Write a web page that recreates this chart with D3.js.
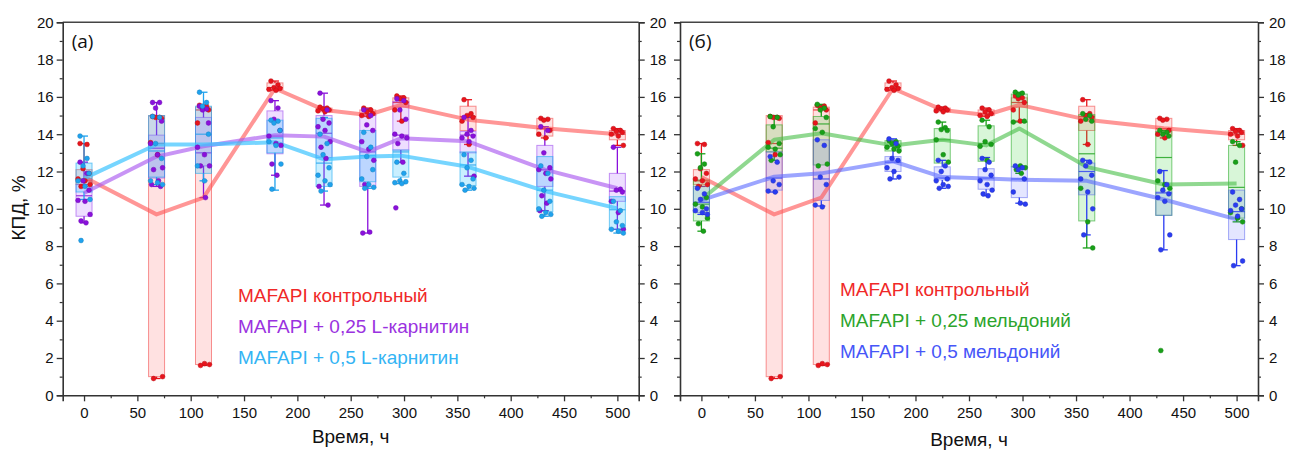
<!DOCTYPE html>
<html>
<head>
<meta charset="utf-8">
<script src="https://cdn.jsdelivr.net/npm/d3@7/dist/d3.min.js"></script>
<style>
  body { margin: 0; background: #fff; }
  svg { display: block; font-family: "Liberation Sans", Arial, sans-serif; }
</style>
</head>
<body>
<svg id="chart" width="1291" height="452"></svg>
<script>
// measurement times, h
const times = [0, 68, 112, 179, 225, 266, 297, 360, 432, 500];
const yTicks = [0, 2, 4, 6, 8, 10, 12, 14, 16, 18, 20];
const xTicks = [0, 50, 100, 150, 200, 250, 300, 350, 400, 450, 500];

// box rows per time: [whisker lo, q1, median, q3, whisker hi, mean]
const ctrlBox = [
  [11.2, 11.3, 11.5, 12.1, 13.5, 11.7],
  [0.9, 1.0, 13.5, 15.0, 15.0, 9.7],
  [1.6, 1.65, 15.3, 15.45, 15.55, 10.6],
  [16.35, 16.4, 16.5, 16.75, 16.85, 16.45],
  [15.2, 15.2, 15.3, 15.4, 15.45, 15.3],
  [14.95, 15.0, 15.1, 15.3, 15.4, 15.03],
  [14.7, 15.45, 15.7, 15.95, 16.05, 15.57],
  [13.45, 14.2, 14.95, 15.5, 15.85, 14.78],
  [13.8, 13.9, 14.3, 14.85, 14.85, 14.32],
  [13.4, 13.7, 14.0, 14.2, 14.3, 14.0]
];
const ctrlPts = [
  [13.5, 13.45, 12.15, 11.9, 11.6, 11.5, 11.3, 11.2],
  [14.95, 14.9, 14.9, 14.85, 13.55, 12.9, 1.0, 0.9],
  [15.55, 15.5, 15.4, 15.3, 14.6, 1.7, 1.65, 1.6],
  [16.85, 16.65, 16.5, 16.45, 16.4, 16.35],
  [15.45, 15.4, 15.35, 15.3, 15.25, 15.2],
  [15.4, 15.3, 15.2, 15.1, 15.0, 14.95],
  [16.05, 15.95, 15.9, 15.7, 15.3, 14.7],
  [15.85, 15.1, 15.0, 14.9, 14.7, 13.45],
  [14.85, 14.8, 14.75, 14.2, 14.0, 13.8],
  [14.3, 14.2, 14.15, 14.1, 14.0, 13.9, 13.4]
];

const carn25Box = [
  [9.25, 9.6, 10.7, 11.3, 12.5, 10.85],
  [11.2, 11.65, 13.25, 13.95, 15.7, 12.8],
  [10.6, 12.3, 13.0, 14.9, 15.5, 13.35],
  [11.8, 12.95, 13.9, 15.25, 15.8, 13.95],
  [10.2, 12.75, 14.05, 15.0, 16.2, 13.87],
  [8.7, 11.2, 13.05, 15.05, 15.35, 13.05],
  [12.5, 13.15, 13.95, 15.75, 15.95, 13.78],
  [11.75, 13.0, 13.95, 14.15, 14.9, 13.62],
  [9.9, 11.2, 12.1, 13.4, 14.4, 12.1],
  [8.9, 10.4, 10.95, 11.9, 13.3, 11.1]
];
const carn25Pts = [
  [12.5, 11.9, 11.5, 11.0, 10.45, 10.4, 9.7, 9.35, 9.25],
  [15.7, 15.7, 15.4, 14.7, 13.5, 12.9, 12.2, 12.1, 11.5, 11.3, 11.2],
  [15.5, 15.35, 15.3, 14.6, 13.3, 12.9, 12.3, 12.3, 10.6],
  [15.8, 15.4, 14.8, 14.2, 13.9, 13.5, 13.4, 12.4, 11.8],
  [16.2, 15.3, 14.8, 14.6, 14.4, 14.2, 13.6, 13.3, 12.7, 11.2, 10.2],
  [15.3, 15.0, 14.5, 14.2, 13.6, 13.2, 12.6, 11.3, 8.75, 8.7],
  [15.9, 15.8, 15.3, 14.8, 14.0, 13.9, 13.8, 13.5, 12.5, 10.05],
  [14.9, 14.2, 14.0, 13.9, 13.8, 13.6, 11.75],
  [14.4, 14.2, 13.0, 12.2, 12.1, 11.9, 11.6, 10.7, 10.3, 9.9],
  [13.3, 11.05, 11.0, 10.9, 10.4, 9.8, 8.9]
];

const carn5Box = [
  [10.5, 10.9, 11.6, 12.45, 13.9, 11.63],
  [11.3, 11.7, 13.1, 15.0, 15.0, 13.45],
  [11.5, 11.9, 14.0, 15.5, 16.25, 13.45],
  [11.0, 13.0, 13.8, 14.75, 14.75, 13.57],
  [10.95, 11.2, 12.45, 14.85, 14.9, 12.65],
  [11.1, 11.45, 12.85, 14.2, 14.2, 12.8],
  [11.35, 11.7, 13.05, 13.15, 13.15, 12.85],
  [11.0, 11.25, 12.35, 13.05, 13.05, 12.25],
  [9.6, 9.85, 11.0, 12.8, 12.8, 10.95],
  [8.7, 8.9, 9.95, 10.65, 10.65, 10.02]
];
const carn5Pts = [
  [13.9, 12.7, 12.3, 11.9, 11.5, 11.2, 10.5, 8.3],
  [14.95, 14.9, 13.5, 12.7, 11.5, 11.4, 11.3],
  [16.25, 15.7, 15.5, 14.0, 12.3, 11.5],
  [14.75, 14.7, 14.6, 14.2, 13.6, 13.4, 12.4, 11.05],
  [14.0, 13.5, 12.9, 12.2, 11.8, 11.5, 11.3, 10.95],
  [14.1, 13.3, 12.8, 12.1, 11.6, 11.3, 11.15, 11.1],
  [12.5, 11.9, 11.5, 11.45, 11.4, 11.35],
  [12.9, 12.6, 12.2, 11.6, 11.3, 11.2, 11.1, 11.0],
  [12.3, 11.9, 11.0, 10.4, 10.0, 9.8, 9.7, 9.6],
  [10.4, 9.9, 9.3, 9.1, 8.9, 8.8, 8.7]
];

const meld25Box = [
  [8.8, 9.35, 10.25, 11.55, 12.95, 10.5],
  [12.6, 13.05, 13.25, 14.5, 15.0, 13.7],
  [12.35, 12.35, 14.55, 14.95, 15.6, 14.05],
  [13.1, 13.1, 13.35, 13.65, 13.65, 13.4],
  [12.45, 12.45, 13.7, 14.3, 14.65, 13.7],
  [12.55, 12.55, 13.5, 14.45, 14.75, 13.4],
  [11.9, 12.25, 14.65, 16.15, 16.25, 14.3],
  [7.9, 9.35, 12.95, 15.05, 15.1, 12.25],
  [9.65, 9.65, 12.75, 14.15, 14.2, 11.3],
  [9.3, 9.5, 11.15, 13.4, 13.6, 11.35]
];
const meld25Pts = [
  [12.95, 12.4, 12.2, 10.6, 10.25, 10.1, 9.5, 9.2, 8.8],
  [14.95, 14.9, 14.4, 13.5, 13.3, 13.2, 12.9, 12.6],
  [15.6, 15.4, 15.3, 14.9, 14.3, 14.1, 12.4, 12.3],
  [13.65, 13.6, 13.5, 13.35, 13.3, 13.2, 13.1],
  [14.65, 14.35, 14.25, 14.2, 13.7, 12.9, 12.5],
  [14.75, 14.4, 13.6, 13.45, 13.35, 12.6],
  [16.25, 16.2, 16.1, 14.7, 14.65, 12.3, 12.2, 12.1, 11.9],
  [15.1, 15.0, 14.8, 14.7, 11.1, 9.3, 7.9],
  [14.2, 14.1, 14.0, 13.9, 11.5, 11.3, 11.1, 2.4],
  [13.6, 13.4, 12.5, 10.0, 9.8, 9.5, 9.3]
];

const meld5Box = [
  [9.7, 9.8, 10.35, 11.2, 11.2, 10.47],
  [10.9, 11.0, 11.65, 13.05, 13.05, 11.72],
  [10.15, 10.45, 11.6, 13.7, 13.7, 11.9],
  [11.6, 12.0, 12.5, 12.8, 13.75, 12.55],
  [11.1, 11.55, 11.65, 12.25, 12.6, 11.7],
  [10.7, 11.05, 11.65, 12.15, 12.75, 11.62],
  [10.3, 10.6, 11.6, 12.25, 12.3, 11.56],
  [8.6, 10.75, 12.0, 12.45, 12.6, 11.5],
  [7.8, 9.65, 10.85, 10.9, 12.05, 10.5],
  [6.95, 8.35, 9.85, 11.0, 11.0, 9.43]
];
const meld5Pts = [
  [11.1, 10.8, 10.5, 10.0, 9.9, 9.8, 9.7],
  [12.8, 12.5, 11.5, 11.3, 10.95, 10.9],
  [13.7, 13.4, 11.7, 11.3, 10.2, 10.1],
  [13.75, 13.5, 12.7, 12.6, 12.2, 12.0, 11.7, 11.6],
  [12.6, 12.3, 12.0, 11.6, 11.5, 11.3, 11.2, 11.1],
  [12.7, 12.5, 12.1, 11.8, 11.5, 11.3, 11.0, 10.8, 10.7],
  [12.3, 12.2, 12.1, 11.6, 10.9, 10.3, 10.25],
  [12.6, 12.5, 12.3, 11.8, 11.6, 10.9, 10.0, 8.6],
  [12.0, 11.3, 11.0, 10.8, 10.6, 10.4, 8.6, 7.8],
  [10.9, 10.5, 10.2, 10.0, 9.9, 9.6, 7.2, 6.95]
];

const ctrl   = { name: "MAFAPI контрольный", box: ctrlBox, pts: ctrlPts, dot: "#e8141c", fill: "rgba(255,70,70,0.16)", edge: "rgba(240,60,60,0.55)", line: "rgba(255,80,80,0.6)", text: "#f02828" };
const carn25 = { name: "MAFAPI + 0,25 L-карнитин", box: carn25Box, pts: carn25Pts, dot: "#8a10dc", fill: "rgba(170,90,255,0.2)", edge: "rgba(150,60,235,0.55)", line: "rgba(170,90,240,0.65)", text: "#9a32e0" };
const carn5  = { name: "MAFAPI + 0,5 L-карнитин", box: carn5Box, pts: carn5Pts, dot: "#1fa2ee", fill: "rgba(40,190,255,0.25)", edge: "rgba(30,170,240,0.6)", line: "rgba(60,195,255,0.7)", text: "#33b4f4" };
const meld25 = { name: "MAFAPI + 0,25 мельдоний", box: meld25Box, pts: meld25Pts, dot: "#18a018", fill: "rgba(60,210,60,0.2)", edge: "rgba(40,170,40,0.6)", line: "rgba(70,190,70,0.6)", text: "#2ca42c" };
const meld5  = { name: "MAFAPI + 0,5 мельдоний", box: meld5Box, pts: meld5Pts, dot: "#2a3cf2", fill: "rgba(90,100,255,0.16)", edge: "rgba(80,90,240,0.5)", line: "rgba(90,105,255,0.6)", text: "#4656f8" };

// horizontal offsets for the scattered points, px
const jitter = [-4, 3, -1, 5, -6, 1, 6, -3, 2, -5, 4];

const svg = d3.select("#chart");
const plotTop = 22.3, plotBottom = 395.3;
const y = d3.scaleLinear().domain([0, 20]).range([plotBottom, plotTop]);

const panels = [
  { x0: 62.7, x1: 638.7, tag: "(a)", series: [ctrl, carn25, carn5], legendX: 238, legendY: 302, leftLabels: true, titleY: 443 },
  { x0: 680, x1: 1258, tag: "(б)", series: [ctrl, meld25, meld5], legendX: 840, legendY: 296, leftLabels: false, titleY: 446 }
];

panels.forEach(p => {
  const x = d3.scaleLinear().domain([-20, 520]).range([p.x0, p.x1]);
  const g = svg.append("g");
  const bw = x(15) - x(0);

  // boxes
  p.series.forEach(s => {
    const b = g.append("g");
    s.box.forEach((r, i) => {
      const cx = x(times[i]);
      b.append("rect")
        .attr("x", cx - bw / 2).attr("width", bw)
        .attr("y", y(r[3])).attr("height", y(r[1]) - y(r[3]))
        .attr("fill", s.fill).attr("stroke", s.edge).attr("stroke-width", 1);
      b.append("line")
        .attr("x1", cx - bw / 2).attr("x2", cx + bw / 2)
        .attr("y1", y(r[2])).attr("y2", y(r[2]))
        .attr("stroke", s.dot).attr("stroke-width", 1.2).attr("opacity", 0.8);
      // whiskers
      [[r[3], r[4]], [r[1], r[0]]].forEach(w => {
        if (Math.abs(w[1] - w[0]) < 0.01) return;
        b.append("line")
          .attr("x1", cx).attr("x2", cx)
          .attr("y1", y(w[0])).attr("y2", y(w[1]))
          .attr("stroke", s.dot).attr("stroke-width", 1.3);
        b.append("line")
          .attr("x1", cx - 4).attr("x2", cx + 4)
          .attr("y1", y(w[1])).attr("y2", y(w[1]))
          .attr("stroke", s.dot).attr("stroke-width", 1.3);
      });
    });
  });

  // mean lines
  p.series.forEach(s => {
    g.append("path")
      .datum(s.box.map((r, i) => [times[i], r[5]]))
      .attr("fill", "none")
      .attr("stroke", s.line)
      .attr("stroke-width", 4)
      .attr("stroke-linejoin", "round")
      .attr("d", d3.line().x(d => x(d[0])).y(d => y(d[1])));
  });

  // points
  p.series.forEach(s => {
    s.pts.forEach((vals, i) => {
      g.selectAll(null)
        .data(vals)
        .enter()
        .append("circle")
        .attr("cx", (d, k) => x(times[i]) + jitter[k % jitter.length])
        .attr("cy", d => y(d))
        .attr("r", 2.4)
        .attr("fill", s.dot)
        .attr("stroke", d3.color(s.dot).darker(0.6))
        .attr("stroke-width", 0.5);
    });
  });

  // frame
  g.append("line").attr("x1", p.x0).attr("x2", p.x1).attr("y1", plotTop).attr("y2", plotTop)
    .attr("stroke", "#444").attr("stroke-width", 1.6);

  const yMinor = d3.range(1, 20, 2);
  const styleAxis = a => {
    a.select(".domain").attr("stroke", "#333").attr("stroke-width", 1.6);
    a.selectAll(".tick line").attr("stroke", "#333").attr("stroke-width", 1.3);
    a.selectAll("text").attr("fill", "#111").style("font-size", "15px");
  };

  const left = g.append("g").attr("transform", `translate(${p.x0},0)`)
    .call(d3.axisLeft(y).tickValues(yTicks).tickSize(6).tickPadding(3)
      .tickFormat(p.leftLabels ? d3.format("d") : () => ""));
  styleAxis(left);
  g.append("g").attr("transform", `translate(${p.x0},0)`)
    .call(d3.axisLeft(y).tickValues(yMinor).tickSize(3).tickFormat(""))
    .call(a => { a.select(".domain").remove(); a.selectAll("line").attr("stroke", "#333").attr("stroke-width", 1.2); });

  const right = g.append("g").attr("transform", `translate(${p.x1},0)`)
    .call(d3.axisRight(y).tickValues(yTicks).tickSize(6).tickPadding(5).tickFormat(d3.format("d")));
  styleAxis(right);
  g.append("g").attr("transform", `translate(${p.x1},0)`)
    .call(d3.axisRight(y).tickValues(yMinor).tickSize(3).tickFormat(""))
    .call(a => { a.select(".domain").remove(); a.selectAll("line").attr("stroke", "#333").attr("stroke-width", 1.2); });

  const bot = g.append("g").attr("transform", `translate(0,${plotBottom})`)
    .call(d3.axisBottom(x).tickValues(xTicks).tickSize(6).tickPadding(6).tickFormat(d3.format("d")));
  styleAxis(bot);
  g.append("g").attr("transform", `translate(0,${plotBottom})`)
    .call(d3.axisBottom(x).tickValues(d3.range(25, 525, 50)).tickSize(3).tickFormat(""))
    .call(a => { a.select(".domain").remove(); a.selectAll("line").attr("stroke", "#333").attr("stroke-width", 1.2); });

  // titles
  g.append("text")
    .attr("x", (p.x0 + p.x1) / 2)
    .attr("y", p.titleY)
    .attr("text-anchor", "middle")
    .style("font-size", "19px")
    .attr("fill", "#111")
    .text("Время, ч");

  g.append("text")
    .attr("x", p.x0 + 9).attr("y", 48)
    .style("font-family", "'Open Sans', sans-serif")
    .style("font-size", "19px")
    .attr("fill", "#111")
    .text(p.tag);

  // legend
  p.series.forEach((s, i) => {
    g.append("text")
      .attr("x", p.legendX).attr("y", p.legendY + i * 31)
      .style("font-size", "19px")
      .attr("fill", s.text)
      .text(s.name);
  });
});

svg.append("text")
  .attr("transform", "translate(25,208) rotate(-90)")
  .attr("text-anchor", "middle")
  .style("font-size", "19px")
  .attr("fill", "#111")
  .text("КПД, %");
</script>
</body>
</html>
